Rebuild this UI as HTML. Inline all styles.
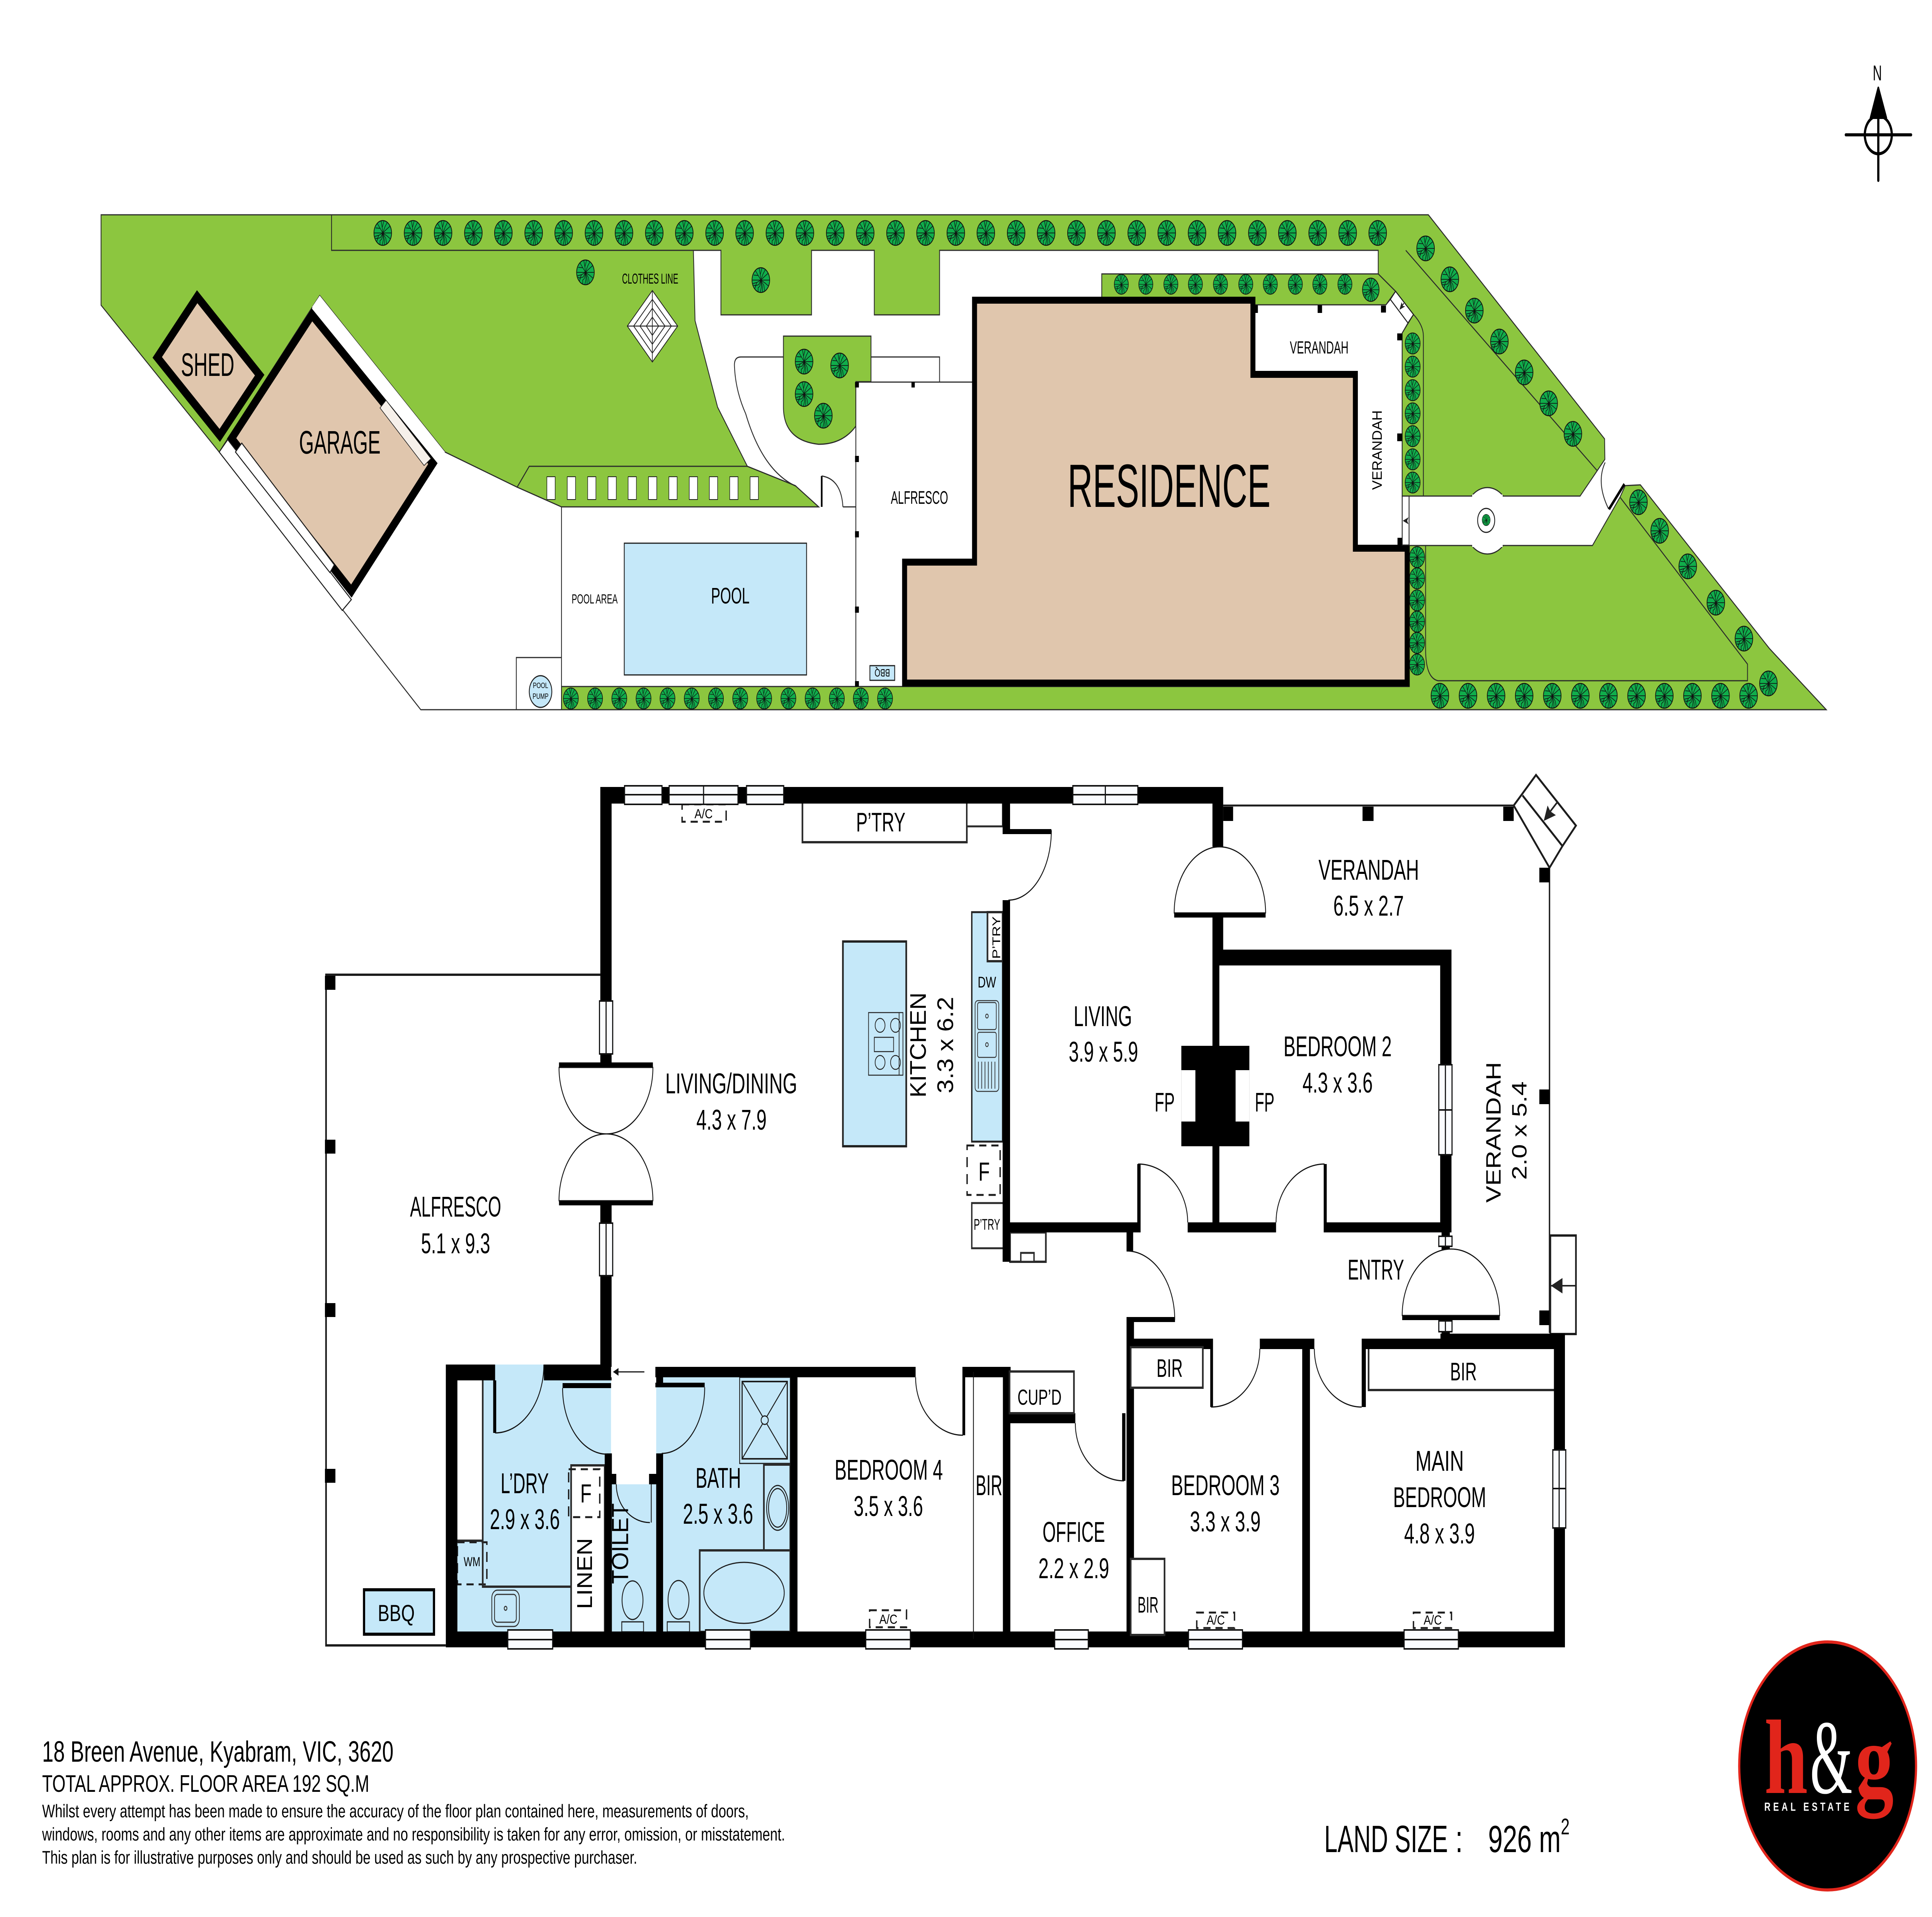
<!DOCTYPE html>
<html><head><meta charset="utf-8"><title>18 Breen Avenue floor plan</title>
<style>
html,body{margin:0;padding:0;background:#fff;width:100%;height:100%;overflow:hidden}
svg{display:block;width:100vw;height:100vh}
text{font-family:"Liberation Sans",sans-serif;fill:#000}
.g{fill:#8cc63f;stroke:#2a2a2a;stroke-width:3}
.l{fill:none;stroke:#2a2a2a;stroke-width:3}
.m{fill:none;stroke:#1c1c1c;stroke-width:6}
.wh{fill:#fff;stroke:#1c1c1c;stroke-width:3}
.b{fill:#c5e8f9}
.bs{fill:#c5e8f9;stroke:#1c1c1c;stroke-width:3}
.bk{fill:#000}
.w{fill:#fafcff;stroke:#111;stroke-width:4}
.d{fill:#fff;stroke:#111;stroke-width:3}
.dash{fill:none;stroke:#1c1c1c;stroke-width:5;stroke-dasharray:26 18}
.box{fill:#fff;stroke:#2a2a2a;stroke-width:6}
</style></head><body>
<svg xmlns="http://www.w3.org/2000/svg" viewBox="0 0 7016 4962" preserveAspectRatio="none">
<defs>
<g id="t"><circle r="32" fill="#10ad4b" stroke="#111" stroke-width="2.5"/><path d="M0 0L-2-14L-6-31M-2-14L4-31M0 0L8-16L16-27M0 0L13-9L27-18M0 0H31M0 0L-12-15L-20-25M-10-12L-26-13M0 0H-31M0 0L-14 6L-29 9M-14 6L-20 15L-27 13M0 0L-8 12L-18 14L-22 23M0 0L-4 16L-10 20L-10 30M0 0L2 18L-2 31M0 0L6 18L6 31M0 0L11 14L14 28M0 0L16 8L27 15" fill="none" stroke="#111" stroke-width="1.7"/></g>
<use id="m" href="#t" transform="scale(.85)"/>
<use id="s" href="#t" transform="scale(.8)"/>
</defs>
<rect width="7016" height="4962" fill="#fff"/>

<!-- SITE -->
<polygon class="g" points="367,556 5187,556 5827,1136 5828,1189 5738,1284 5092,1284 5092,862 5133,814 5068,754 5005,709 5005,648 3412,648 3412,815 3175,815 3175,648 2947,648 2947,815 2618,815 2618,648 2518,648 2524,830 2606,1054 2714,1207 1922,1207 1878,1261 1616,1170 1161,765 796,1170 367,790"/>
<polygon class="g" points="1922,1207 2714,1207 2888,1257 2973,1312 2039,1312 1878,1261"/>
<polygon class="g" points="4001,709 5005,709 5068,754 5033,789 4001,789"/>
<polygon class="g" points="5883,1287 5902,1257 5957,1255 6426,1679 6632,1837 2039,1837 2039,1777 5118,1777 5118,1412 5783,1412"/>
<path class="g" d="M2845 870H3163V988H3108V1103Q3060 1150 2973 1150Q2845 1140 2845 1053Z"/>
<path class="l" d="M1204 556V648H2518M5105 648L5801 1219M5133 814Q5169 842 5169 870V1284M5883 1287L6346 1719V1762H5222Q5177 1755 5177 1680V1412M2845 924H2690Q2667 924 2667 945Q2670 1010 2708 1071Q2770 1220 2892 1259M3163 924H3412V988M3108 989H3539M3108 989V1777M3061 1312H3108M2039 1312V1837M1875 1837V1702H2039M796 1170L1528 1837H2039M1243 1580L1276 1552"/>
<g fill="#fff" stroke="#1c1c1c" stroke-width="2"><rect x="1986" y="1234" width="30" height="59"/><rect x="2060" y="1234" width="30" height="59"/><rect x="2134" y="1234" width="30" height="59"/><rect x="2208" y="1234" width="30" height="59"/><rect x="2281" y="1234" width="30" height="59"/><rect x="2355" y="1234" width="30" height="59"/><rect x="2429" y="1234" width="30" height="59"/><rect x="2503" y="1234" width="30" height="59"/><rect x="2576" y="1234" width="30" height="59"/><rect x="2650" y="1234" width="30" height="59"/><rect x="2724" y="1234" width="30" height="59"/></g>
<path d="M2984 1232V1312" stroke="#000" stroke-width="6" fill="none"/><path class="l" d="M2984 1232Q3055 1240 3061 1312"/>
<!-- clothes line -->
<g fill="#fff" stroke="#222" stroke-width="2.5"><polygon points="2369,752 2461,844 2369,937 2278,844"/><polygon points="2369,775 2438,844 2369,914 2301,844"/><polygon points="2369,798 2415,844 2369,891 2324,844"/><polygon points="2369,821 2392,844 2369,868 2347,844"/><path d="M2278 844H2461M2369 752V937"/></g>
<!-- pool -->
<rect class="bs" x="2267" y="1406" width="662" height="341"/>
<ellipse class="bs" cx="1963" cy="1790" rx="41" ry="41"/>
<rect class="bs" x="3159" y="1723" width="90" height="38"/>
<!-- shed & garage -->
<polygon points="716,768 943,971 798,1127 571,925" fill="#e0c6ad" stroke="#000" stroke-width="24"/>
<polygon points="1133,815 1572,1200 1276,1530 841,1135" fill="#e0c6ad" stroke="#000" stroke-width="24"/>
<polygon points="1161,765 1616,1170 1580,1190 1133,795" fill="#fff"/>
<polygon points="1402,1036 1565,1187 1540,1205 1380,1056" fill="#f6f0ea" stroke="#222" stroke-width="2"/>
<polygon points="796,1170 827,1138 1276,1552 1243,1580" fill="#fff" stroke="#1c1c1c" stroke-width="3"/>
<polygon points="878,1147 1214,1462 1198,1482 855,1170" fill="#fff" stroke="#1c1c1c" stroke-width="3"/>
<!-- residence -->
<polygon points="3539,777 4550,777 4550,969 4922,969 4922,1419 5110,1419 5110,1768 3285,1768 3285,1455 3539,1455" fill="#e0c6ad" stroke="#000" stroke-width="18" stroke-linejoin="miter"/>
<!-- verandah site bits -->
<path class="l" d="M4560 789H5033L5049 775M5113 836L5092 862V1286"/>
<polygon class="wh" points="5068,754 5133,814 5113,836 5049,775"/>
<rect class="wh" x="5092" y="1284" width="25" height="127"/>
<polygon points="5094,1348 5115,1339 5110,1348 5115,1357" fill="#222"/>
<path d="M5090 793L5098 785" stroke="#222" stroke-width="3"/>
<polygon points="5082,802 5090,782 5094,792 5103,793" fill="#222"/>
<g class="bk"><rect x="4552" y="790" width="16" height="20"/><rect x="4785" y="790" width="16" height="20"/><rect x="5015" y="791" width="18" height="18"/><rect x="5074" y="863" width="18" height="18"/><rect x="5074" y="1122" width="18" height="20"/><rect x="5075" y="1392" width="17" height="18"/><rect x="3105" y="1180" width="14" height="16"/><rect x="3105" y="1375" width="14" height="16"/><rect x="3105" y="1570" width="14" height="16"/><rect x="3105" y="1763" width="14" height="14"/><rect x="3105" y="989" width="14" height="14"/><rect x="3310" y="989" width="12" height="14"/></g>
<!-- path -->
<path class="l" d="M5092 1284H5344M5459 1284H5738M5118 1412H5344M5459 1412H5783"/>
<path d="M5344 1284A86 86 0 0 1 5459 1284ZM5344 1412A86 86 0 0 0 5459 1412Z" fill="#fff" stroke="#2a2a2a" stroke-width="3"/>
<rect x="5346" y="1280" width="111" height="8" fill="#fff"/><rect x="5346" y="1408" width="111" height="8" fill="#fff"/>
<ellipse class="wh" cx="5397" cy="1347" rx="31" ry="31"/>
<use href="#t" transform="translate(5397,1346) scale(.46)"/>
<path class="l" d="M5829 1197Q5795 1250 5842 1318" stroke-width="2"/>
<path d="M5843 1318L5899 1253" stroke="#000" stroke-width="8" fill="none"/>

<!-- trees -->
<use href="#t" x="1390" y="603"/><use href="#t" x="1500" y="603"/><use href="#t" x="1609" y="603"/><use href="#t" x="1719" y="603"/><use href="#t" x="1828" y="603"/><use href="#t" x="1938" y="603"/><use href="#t" x="2047" y="603"/><use href="#t" x="2157" y="603"/><use href="#t" x="2266" y="603"/><use href="#t" x="2376" y="603"/><use href="#t" x="2485" y="603"/><use href="#t" x="2595" y="603"/><use href="#t" x="2704" y="603"/><use href="#t" x="2814" y="603"/><use href="#t" x="2923" y="603"/><use href="#t" x="3033" y="603"/><use href="#t" x="3142" y="603"/><use href="#t" x="3252" y="603"/><use href="#t" x="3361" y="603"/><use href="#t" x="3471" y="603"/><use href="#t" x="3580" y="603"/><use href="#t" x="3690" y="603"/><use href="#t" x="3799" y="603"/><use href="#t" x="3909" y="603"/><use href="#t" x="4018" y="603"/><use href="#t" x="4128" y="603"/><use href="#t" x="4237" y="603"/><use href="#t" x="4347" y="603"/><use href="#t" x="4456" y="603"/><use href="#t" x="4566" y="603"/><use href="#t" x="4675" y="603"/><use href="#t" x="4785" y="603"/><use href="#t" x="4894" y="603"/><use href="#t" x="5003" y="603"/>
<use href="#t" x="2126" y="705"/><use href="#t" x="2763" y="725"/>
<use href="#t" x="2920" y="936"/><use href="#t" x="3049" y="946"/><use href="#t" x="2920" y="1020"/><use href="#t" x="2990" y="1076"/>
<use href="#t" x="5177" y="643"/><use href="#t" x="5265" y="723"/><use href="#t" x="5354" y="804"/><use href="#t" x="5445" y="884"/><use href="#t" x="5535" y="964"/><use href="#t" x="5624" y="1044"/><use href="#t" x="5712" y="1123"/>
<use href="#t" x="5950" y="1300"/><use href="#t" x="6027" y="1374"/><use href="#t" x="6129" y="1466"/><use href="#t" x="6231" y="1560"/><use href="#t" x="6333" y="1653"/><use href="#t" x="6422" y="1769"/>
<use href="#t" x="5229" y="1801"/><use href="#t" x="5331" y="1801"/><use href="#t" x="5433" y="1801"/><use href="#t" x="5535" y="1801"/><use href="#t" x="5637" y="1801"/><use href="#t" x="5739" y="1801"/><use href="#t" x="5841" y="1801"/><use href="#t" x="5943" y="1801"/><use href="#t" x="6044" y="1801"/><use href="#t" x="6146" y="1801"/><use href="#t" x="6248" y="1801"/><use href="#t" x="6350" y="1801"/>
<use href="#t" transform="translate(4978,750) scale(.94)"/>
<g><use href="#s" transform="translate(4072,736)"/><use href="#s" transform="translate(4161,736)"/><use href="#s" transform="translate(4252,736)"/><use href="#s" transform="translate(4341,736)"/><use href="#s" transform="translate(4432,736)"/><use href="#s" transform="translate(4524,736)"/><use href="#s" transform="translate(4613,736)"/><use href="#s" transform="translate(4704,736)"/><use href="#s" transform="translate(4793,736)"/><use href="#s" transform="translate(4884,736)"/>
<use href="#m" transform="translate(5130,889)"/><use href="#m" transform="translate(5130,949)"/><use href="#m" transform="translate(5130,1010)"/><use href="#m" transform="translate(5130,1070)"/><use href="#m" transform="translate(5130,1129)"/><use href="#m" transform="translate(5130,1189)"/><use href="#m" transform="translate(5130,1249)"/>
<use href="#m" transform="translate(5146,1442)"/><use href="#m" transform="translate(5146,1497)"/><use href="#m" transform="translate(5146,1554)"/><use href="#m" transform="translate(5146,1609)"/><use href="#m" transform="translate(5146,1664)"/><use href="#m" transform="translate(5146,1720)"/>
<use href="#m" transform="translate(2073,1808)"/><use href="#m" transform="translate(2161,1808)"/><use href="#m" transform="translate(2249,1808)"/><use href="#m" transform="translate(2337,1808)"/><use href="#m" transform="translate(2424,1808)"/><use href="#m" transform="translate(2512,1808)"/><use href="#m" transform="translate(2600,1808)"/><use href="#m" transform="translate(2688,1808)"/><use href="#m" transform="translate(2775,1808)"/><use href="#m" transform="translate(2863,1808)"/><use href="#m" transform="translate(2951,1808)"/><use href="#m" transform="translate(3039,1808)"/><use href="#m" transform="translate(3126,1808)"/><use href="#m" transform="translate(3214,1808)"/></g>

<!-- site labels -->
<text x="657" y="973" font-size="84" textLength="194" lengthAdjust="spacingAndGlyphs">SHED</text>
<text x="1086" y="1174" font-size="84" textLength="296" lengthAdjust="spacingAndGlyphs">GARAGE</text>
<text x="2582" y="1562" font-size="58" textLength="140" lengthAdjust="spacingAndGlyphs">POOL</text>
<text x="2076" y="1562" font-size="34" textLength="167" lengthAdjust="spacingAndGlyphs">POOL AREA</text>
<text x="3235" y="1304" font-size="47" textLength="208" lengthAdjust="spacingAndGlyphs">ALFRESCO</text>
<text x="2259" y="734" font-size="37" textLength="204" lengthAdjust="spacingAndGlyphs">CLOTHES LINE</text>
<text x="3877" y="1312" font-size="158" textLength="737" lengthAdjust="spacingAndGlyphs">RESIDENCE</text>
<text x="4684" y="915" font-size="45" textLength="213" lengthAdjust="spacingAndGlyphs">VERANDAH</text>
<text transform="translate(5018,1268) rotate(-90)" font-size="50" textLength="206" lengthAdjust="spacingAndGlyphs">VERANDAH</text>
<text x="1963" y="1781" font-size="20" text-anchor="middle">POOL</text>
<text x="1963" y="1809" font-size="20" text-anchor="middle">PUMP</text>
<text transform="translate(3232,1732) rotate(180)" font-size="28" textLength="56" lengthAdjust="spacingAndGlyphs">BBQ</text>

<!-- FLOOR PLAN: floors -->
<rect class="b" x="1661" y="3532" width="558" height="692"/>
<rect class="b" x="2222" y="3842" width="161" height="382"/>
<rect class="b" x="2383" y="3565" width="487" height="659"/>
<rect x="2219" y="3538" width="161" height="277" fill="#fff"/>

<!-- alfresco outline -->
<path d="M2180 2523H1184V4259H1619" fill="none" stroke="#1c1c1c" stroke-width="6"/>
<g class="bk"><rect x="1180" y="2526" width="38" height="36"/><rect x="1180" y="2950" width="38" height="36"/><rect x="1180" y="3373" width="38" height="36"/><rect x="1180" y="3802" width="38" height="36"/></g>
<rect x="1322" y="4115" width="254" height="115" class="b" stroke="#000" stroke-width="8"/>

<!-- verandah outline -->
<path d="M4442 2085H5497M5627 2246V3450" fill="none" stroke="#1c1c1c" stroke-width="5"/>
<polygon points="5497,2085 5578,2006 5723,2137 5674,2190 5627,2246" fill="#fff" stroke="#1c1c1c" stroke-width="6"/>
<path d="M5529 2059L5674 2190" stroke="#1c1c1c" stroke-width="6"/>
<polygon points="5606,2125 5620,2085 5630,2100 5650,2110" fill="#222"/><path d="M5630 2100L5657 2075" stroke="#222" stroke-width="5"/>
<rect x="5630" y="3198" width="93" height="255" fill="#fff" stroke="#1c1c1c" stroke-width="6"/>
<path d="M5630 3328H5723" stroke="#222" stroke-width="4"/><polygon points="5632,3328 5674,3308 5674,3348" fill="#222"/>
<g class="bk"><rect x="4442" y="2088" width="36" height="37"/><rect x="4948" y="2088" width="40" height="37"/><rect x="5459" y="2088" width="38" height="37"/><rect x="5590" y="2246" width="37" height="38"/><rect x="5590" y="2820" width="37" height="38"/><rect x="5590" y="3392" width="37" height="38"/></g>

<!-- island & counter -->
<rect x="3061" y="2437" width="230" height="530" class="b" stroke="#222" stroke-width="6"/>
<g fill="none" stroke="#222" stroke-width="2.5"><rect x="3154" y="2621" width="125" height="162"/><path d="M3265 2621V2783"/><ellipse cx="3196" cy="2654" rx="18" ry="18"/><ellipse cx="3252" cy="2654" rx="18" ry="18"/><ellipse cx="3196" cy="2750" rx="18" ry="18"/><ellipse cx="3252" cy="2750" rx="18" ry="18"/><rect x="3175" y="2685" width="70" height="37"/></g>
<rect x="3529" y="2361" width="112" height="594" class="b" stroke="#222" stroke-width="5"/>
<rect x="3586" y="2361" width="55" height="127" class="box"/>
<g fill="none" stroke="#333" stroke-width="2.5"><rect x="3541" y="2590" width="86" height="235" rx="10"/><rect x="3550" y="2595" width="68" height="70" rx="6"/><rect x="3550" y="2672" width="68" height="65" rx="6"/><circle cx="3584" cy="2630" r="5"/><circle cx="3584" cy="2704" r="5"/><path d="M3553 2748V2818M3565 2748V2818M3577 2748V2818M3589 2748V2818M3601 2748V2818M3613 2748V2818"/></g>
<rect x="3512" y="2965" width="120" height="128" class="dash"/>
<rect x="3529" y="3114" width="128" height="117" fill="#fff" stroke="#2a2a2a" stroke-width="5"/>
<rect x="3668" y="3190" width="130" height="76" fill="#fff" stroke="#2a2a2a" stroke-width="6"/>
<rect x="3707" y="3243" width="48" height="23" fill="#fff" stroke="#2a2a2a" stroke-width="5"/>
<rect x="2914" y="2067" width="597" height="113" class="box"/>
<rect x="3511" y="2070" width="130" height="69" fill="#fff" stroke="#2a2a2a" stroke-width="5"/>
<rect x="2477" y="2082" width="160" height="45" class="dash"/>

<!-- fixtures wet rooms -->
<rect x="1648" y="3568" width="105" height="420" class="box"/>
<rect x="1661" y="3992" width="107" height="109" class="dash"/>
<path d="M1753 3988V4107H2074" fill="none" stroke="#2a2a2a" stroke-width="6"/>
<g fill="none" stroke="#333" stroke-width="3"><rect x="1786" y="4116" width="100" height="94" rx="20"/><rect x="1796" y="4127" width="79" height="72" rx="10"/><ellipse cx="1836" cy="4163" rx="5" ry="5"/></g>
<rect x="2074" y="3793" width="122" height="440" class="box"/>
<rect x="2065" y="3803" width="113" height="124" class="dash"/>
<g class="bs"><rect x="2686" y="3565" width="184" height="223"/><rect x="2695" y="3576" width="164" height="200" stroke-width="4"/><path d="M2695 3576L2859 3776M2859 3576L2695 3776"/><ellipse cx="2777" cy="3676" rx="13" ry="11"/></g>
<rect x="2774" y="3791" width="96" height="222" class="b" stroke="#2a2a2a" stroke-width="6"/>
<ellipse class="bs" cx="2824" cy="3903" rx="40" ry="58"/><ellipse class="bs" cx="2824" cy="3903" rx="33" ry="50"/>
<rect x="2541" y="4013" width="329" height="211" class="b" stroke="#2a2a2a" stroke-width="6"/>
<ellipse class="bs" cx="2702" cy="4123" rx="146" ry="79"/>
<g class="bs"><ellipse cx="2297" cy="4142" rx="38" ry="50"/><rect x="2258" y="4198" width="79" height="26"/><ellipse cx="2464" cy="4141" rx="38" ry="50"/><rect x="2423" y="4198" width="81" height="26"/></g>

<!-- walls -->
<path class="bk" d="M2180 2037H4442V2080H2180ZM2180 2037H2221V2750H2180ZM2180 3120H2221V3573H2180ZM3641 2080H3668V2159H3641ZM3641 2146H3818V2159H3641ZM3641 2330H3668V3266H3641ZM3668 3164H4142V3190H3668ZM4130 3013H4142V3190H4130ZM4313 3164H4634V3190H4313ZM4807 3013H4818V3190H4807ZM4807 3164H5271V3190H4807ZM4403 2037H4442V2192H4403ZM4403 2375H4442V2499H4403ZM4403 2499H4428V2707H4403ZM4403 2967H4428V3164H4403ZM4403 2458H5271V2499H4403ZM5230 2458H5271V3190H5230ZM4290 2707H4537V2967H4290ZM4091 3190H4115V3238H4091ZM4091 3409H4267V3422H4091ZM4091 3409H4118V4224H4091ZM4091 3465H4405V3492H4091ZM4395 3492H4405V3642H4395ZM4575 3465H4773V3492H4575ZM4729 3492H4757V4224H4729ZM4945 3465H5683V3492H4945ZM4945 3492H4960V3642H4945ZM5231 3452H5683V3470H5231ZM5643 3452H5683V4264H5643ZM1619 4223H5683V4264H1619ZM1619 3532H1661V4264H1619ZM1619 3532H1798V3573H1619ZM1791 3573H1802V3709H1791ZM1975 3532H2221V3573H1975ZM2376 3538H3325V3565H2376ZM3495 3538H3670V3565H3495ZM3495 3565H3505V3715H3495ZM3642 3538H3669V4224H3642ZM3666 3658H3905V3684H3666ZM4075 3658H4087V3833H4075ZM2870 3565H2896V4224H2870ZM2196 3762H2222V4224H2196ZM2383 3762H2408V4224H2383ZM2383 3565H2408V3591H2383ZM2380 3579H2559V3591H2380ZM2043 3580H2219V3593H2043ZM2357 3815H2383V3842H2357ZM2222 3815H2238V3842H2222ZM2180 2728H2221V2763H2180ZM2180 3108H2221V3166H2180ZM2030 2750H2371V2763H2030ZM2030 3108H2371V3120H2030ZM4264 2363H4596V2375H4264ZM5092 3405H5446V3417H5092ZM5235 3190H5265V3465H5235Z"/>
<rect x="4290" y="2770" width="51" height="133" fill="#fff"/><rect x="4487" y="2770" width="50" height="133" fill="#fff"/>
<rect x="2219" y="3538" width="161" height="27" fill="#fff"/>
<path d="M2228 3551H2340" stroke="#111" stroke-width="3"/><polygon points="2226,3551 2246,3541 2246,3561" fill="#111"/>
<path d="M3535 3551V4242" stroke="#111" stroke-width="3"/><path d="M2365 3842V3941" stroke="#111" stroke-width="3"/>

<!-- built-ins over walls -->
<rect x="3666" y="3550" width="234" height="108" fill="#fff" stroke="#2a2a2a" stroke-width="6"/>
<rect x="4106" y="3487" width="262" height="105" fill="#fff" stroke="#2a2a2a" stroke-width="6"/>
<rect x="4106" y="4035" width="123" height="197" fill="#fff" stroke="#2a2a2a" stroke-width="6"/>
<path d="M4970 3492V3598H5643" fill="none" stroke="#2a2a2a" stroke-width="6"/>
<rect x="3158" y="4168" width="134" height="44" class="dash"/><rect x="4346" y="4174" width="137" height="40" class="dash"/><rect x="5133" y="4174" width="138" height="40" class="dash"/>

<!-- door swings -->
<g class="d" fill-rule="nonzero">
<path d="M2030 2763A172 172 0 0 0 2202 2935A169 172 0 0 0 2371 2763Z"/>
<path d="M2030 3108A172 173 0 0 1 2202 2935A169 173 0 0 1 2371 3108Z"/>
<path d="M4264 2363A165 171 0 0 1 4429 2192A167 171 0 0 1 4596 2363Z"/>
<path d="M5092 3405A178 172 0 0 1 5270 3233A176 172 0 0 1 5446 3405Z"/>
</g>
<g fill="none" stroke="#111" stroke-width="3">
<path d="M3818 2149A156 181 0 0 1 3662 2330"/>
<path d="M4133 3013A180 151 0 0 1 4313 3164"/>
<path d="M4810 3013A176 151 0 0 0 4634 3164"/>
<path d="M4091 3238A175 178 0 0 1 4266 3416"/>
<path d="M4398 3642A177 151 0 0 0 4575 3491"/>
<path d="M4773 3491A172 151 0 0 0 4945 3642"/>
<path d="M3905 3684A177 149 0 0 0 4082 3833"/>
<path d="M3325 3565A172 150 0 0 0 3497 3715"/>
<path d="M1975 3532A177 177 0 0 1 1798 3709"/>
<path d="M2043 3593A161 171 0 0 0 2204 3764"/>
<path d="M2559 3591A156 171 0 0 1 2403 3762"/>
<path d="M2238 3842A122 99 0 0 0 2360 3941"/>
</g>

<!-- windows -->
<g class="w">
<rect x="2268" y="2034" width="136" height="48"/><rect x="2430" y="2034" width="250" height="48"/><rect x="2711" y="2034" width="135" height="48"/><rect x="3896" y="2034" width="236" height="48"/>
<rect x="2177" y="2591" width="48" height="137"/><rect x="2177" y="3166" width="48" height="136"/>
<rect x="5225" y="2756" width="48" height="233"/><rect x="5225" y="3200" width="48" height="26"/><rect x="5225" y="3419" width="48" height="28"/>
<rect x="5639" y="3753" width="47" height="202"/>
<rect x="1844" y="4219" width="163" height="49"/><rect x="2562" y="4219" width="163" height="49"/><rect x="3144" y="4219" width="162" height="49"/><rect x="3830" y="4219" width="122" height="49"/><rect x="4316" y="4219" width="196" height="49"/><rect x="5099" y="4219" width="197" height="49"/>
<path d="M2268 2057H2404M2430 2057H2680M2555 2034V2082M2711 2057H2846M3896 2057H4132M4014 2034V2082M2201 2591V2728M2201 3166V3302M5249 2756V2989M5225 2873H5273M5249 3200V3226M5249 3419V3447M5662 3753V3955M5639 3853H5686M1844 4244H2007M2562 4244H2725M3144 4244H3306M3830 4244H3952M4316 4244H4512M5099 4244H5296"/>
</g>

<!-- floor plan labels -->
<text x="2416" y="2830" font-size="74" textLength="479" lengthAdjust="spacingAndGlyphs">LIVING/DINING</text>
<text x="2529" y="2924" font-size="74" textLength="255" lengthAdjust="spacingAndGlyphs">4.3 x 7.9</text>
<text x="1489" y="3149" font-size="74" textLength="331" lengthAdjust="spacingAndGlyphs">ALFRESCO</text>
<text x="1529" y="3244" font-size="74" textLength="251" lengthAdjust="spacingAndGlyphs">5.1 x 9.3</text>
<text x="3109" y="2152" font-size="70" textLength="179" lengthAdjust="spacingAndGlyphs">P’TRY</text>
<text x="2522" y="2118" font-size="34" textLength="66" lengthAdjust="spacingAndGlyphs">A/C</text>
<text transform="translate(3362,2841) rotate(-90)" font-size="82" textLength="272" lengthAdjust="spacingAndGlyphs">KITCHEN</text>
<text transform="translate(3461,2830) rotate(-90)" font-size="82" textLength="250" lengthAdjust="spacingAndGlyphs">3.3 x 6.2</text>
<text transform="translate(3632,2482) rotate(-90)" font-size="40" textLength="110" lengthAdjust="spacingAndGlyphs">P’TRY</text>
<text x="3584" y="2556" font-size="40" text-anchor="middle">DW</text>
<text x="3553" y="3056" font-size="68">F</text>
<text x="3536" y="3183" font-size="40" textLength="96" lengthAdjust="spacingAndGlyphs">P’TRY</text>
<text x="3899" y="2656" font-size="74" textLength="212" lengthAdjust="spacingAndGlyphs">LIVING</text>
<text x="3881" y="2748" font-size="74" textLength="252" lengthAdjust="spacingAndGlyphs">3.9 x 5.9</text>
<text x="4193" y="2877" font-size="70" textLength="73" lengthAdjust="spacingAndGlyphs">FP</text>
<text x="4557" y="2877" font-size="70" textLength="71" lengthAdjust="spacingAndGlyphs">FP</text>
<text x="4661" y="2734" font-size="74" textLength="393" lengthAdjust="spacingAndGlyphs">BEDROOM 2</text>
<text x="4730" y="2828" font-size="74" textLength="255" lengthAdjust="spacingAndGlyphs">4.3 x 3.6</text>
<text x="4788" y="2277" font-size="74" textLength="365" lengthAdjust="spacingAndGlyphs">VERANDAH</text>
<text x="4842" y="2370" font-size="74" textLength="256" lengthAdjust="spacingAndGlyphs">6.5 x 2.7</text>
<text transform="translate(5449,3113) rotate(-90)" font-size="76" textLength="364" lengthAdjust="spacingAndGlyphs">VERANDAH</text>
<text transform="translate(5543,3054) rotate(-90)" font-size="76" textLength="255" lengthAdjust="spacingAndGlyphs">2.0 x 5.4</text>
<text x="4894" y="3312" font-size="74" textLength="205" lengthAdjust="spacingAndGlyphs">ENTRY</text>
<text x="1818" y="3865" font-size="74" textLength="175" lengthAdjust="spacingAndGlyphs">L’DRY</text>
<text x="1779" y="3958" font-size="74" textLength="254" lengthAdjust="spacingAndGlyphs">2.9 x 3.6</text>
<text x="2526" y="3851" font-size="74" textLength="165" lengthAdjust="spacingAndGlyphs">BATH</text>
<text x="2480" y="3944" font-size="74" textLength="255" lengthAdjust="spacingAndGlyphs">2.5 x 3.6</text>
<text x="3031" y="3830" font-size="74" textLength="393" lengthAdjust="spacingAndGlyphs">BEDROOM 4</text>
<text x="3100" y="3924" font-size="74" textLength="252" lengthAdjust="spacingAndGlyphs">3.5 x 3.6</text>
<text x="3543" y="3870" font-size="74" textLength="97" lengthAdjust="spacingAndGlyphs">BIR</text>
<text x="3786" y="3991" font-size="74" textLength="227" lengthAdjust="spacingAndGlyphs">OFFICE</text>
<text x="3771" y="4085" font-size="74" textLength="257" lengthAdjust="spacingAndGlyphs">2.2 x 2.9</text>
<text x="4253" y="3870" font-size="74" textLength="394" lengthAdjust="spacingAndGlyphs">BEDROOM 3</text>
<text x="4321" y="3964" font-size="74" textLength="257" lengthAdjust="spacingAndGlyphs">3.3 x 3.9</text>
<text x="5140" y="3807" font-size="74" textLength="176" lengthAdjust="spacingAndGlyphs">MAIN</text>
<text x="5059" y="3901" font-size="74" textLength="338" lengthAdjust="spacingAndGlyphs">BEDROOM</text>
<text x="5099" y="3995" font-size="74" textLength="257" lengthAdjust="spacingAndGlyphs">4.8 x 3.9</text>
<text x="4200" y="3564" font-size="66" textLength="95" lengthAdjust="spacingAndGlyphs">BIR</text>
<text x="5266" y="3573" font-size="66" textLength="97" lengthAdjust="spacingAndGlyphs">BIR</text>
<text x="4131" y="4174" font-size="58" textLength="76" lengthAdjust="spacingAndGlyphs">BIR</text>
<text x="3695" y="3636" font-size="57" textLength="160" lengthAdjust="spacingAndGlyphs">CUP’D</text>
<text x="1372" y="4196" font-size="60" textLength="134" lengthAdjust="spacingAndGlyphs">BBQ</text>
<text x="1714" y="4054" font-size="34" text-anchor="middle">WM</text>
<text x="2107" y="3889" font-size="68">F</text>
<text transform="translate(2150,4165) rotate(-90)" font-size="78" textLength="184" lengthAdjust="spacingAndGlyphs">LINEN</text>
<text transform="translate(2281,4100) rotate(-90)" font-size="84" textLength="209" lengthAdjust="spacingAndGlyphs">TOILET</text>
<text x="3193" y="4203" font-size="34" textLength="66" lengthAdjust="spacingAndGlyphs">A/C</text>
<text x="4382" y="4205" font-size="34" textLength="66" lengthAdjust="spacingAndGlyphs">A/C</text>
<text x="5170" y="4205" font-size="34" textLength="66" lengthAdjust="spacingAndGlyphs">A/C</text>

<!-- footer -->
<text x="153" y="4560" font-size="76" textLength="1276" lengthAdjust="spacingAndGlyphs">18 Breen Avenue, Kyabram, VIC, 3620</text>
<text x="153" y="4638" font-size="62" textLength="1188" lengthAdjust="spacingAndGlyphs">TOTAL APPROX. FLOOR AREA 192 SQ.M</text>
<text x="153" y="4704" font-size="47" textLength="2566" lengthAdjust="spacingAndGlyphs">Whilst every attempt has been made to ensure the accuracy of the floor plan contained here, measurements of doors,</text>
<text x="153" y="4764" font-size="47" textLength="2698" lengthAdjust="spacingAndGlyphs">windows, rooms and any other items are approximate and no responsibility is taken for any error, omission, or misstatement.</text>
<text x="153" y="4824" font-size="47" textLength="2161" lengthAdjust="spacingAndGlyphs">This plan is for illustrative purposes only and should be used as such by any prospective purchaser.</text>
<text x="4809" y="4794" font-size="98" textLength="449" lengthAdjust="spacingAndGlyphs">LAND SIZE</text>
<text x="5285" y="4794" font-size="98">:</text>
<text x="5404" y="4794" font-size="98" textLength="264" lengthAdjust="spacingAndGlyphs">926 m</text>
<text x="5668" y="4748" font-size="58" textLength="32" lengthAdjust="spacingAndGlyphs">2</text>

<!-- logo -->
<circle cx="6637" cy="4571" r="321" fill="#000" stroke="#e1251b" stroke-width="8"/>
<text x="6407" y="4641" font-size="274" font-weight="bold" textLength="158" lengthAdjust="spacingAndGlyphs" style="font-family:'Liberation Serif',serif;fill:#e1251b">h</text>
<text x="6573" y="4641" font-size="274" textLength="154" lengthAdjust="spacingAndGlyphs" style="font-family:'Liberation Serif',serif;fill:#fff">&amp;</text>
<text x="6737" y="4648" font-size="274" font-weight="bold" textLength="140" lengthAdjust="spacingAndGlyphs" style="font-family:'Liberation Serif',serif;fill:#e1251b">g</text>
<text x="6407" y="4687" font-size="31" font-weight="bold" textLength="309" lengthAdjust="spacing" style="fill:#fff">REAL ESTATE</text>

<!-- north -->
<text x="6801" y="208" font-size="56" textLength="33" lengthAdjust="spacingAndGlyphs">N</text>
<polygon points="6821,227 6793,305 6850,305" fill="#000" stroke="#000" stroke-width="6" stroke-linejoin="round"/>
<circle cx="6821" cy="349" r="49" fill="none" stroke="#000" stroke-width="8"/>
<path d="M6703 349H6940M6821 305V467" stroke="#000" stroke-width="8" stroke-linecap="round" fill="none"/>
</svg>
</body></html>
